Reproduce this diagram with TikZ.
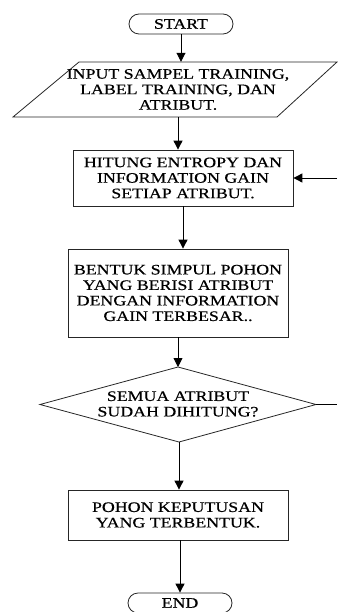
\documentclass[tikz,border=0pt]{standalone}
\usepackage{fontspec}
\setmainfont{Liberation Serif}[FakeStretch=1.23,FakeBold=0.5]
\usetikzlibrary{arrows.meta,shapes.misc}
\begin{document}
\begin{tikzpicture}[x=1pt,y=-1pt,
  every node/.style={font=\fontsize{14.5}{15.5}\selectfont, align=center, inner sep=0pt},
  shapeline/.style={draw=black!85, line width=0.8pt},
  box/.style={shapeline, minimum width=220pt},
  term/.style={shapeline, rounded rectangle, minimum width=104pt, minimum height=20pt},
  arr/.style={draw=black, line width=0.9pt, -{Triangle[length=9pt,width=9pt]}},
  plain/.style={draw=black, line width=0.9pt}]
\useasboundingbox (0,0) rectangle (337,612);

% START
\node[term] (start) at (181,24) {START};

% input parallelogram
\coordinate (p1) at (79,62);
\coordinate (p2) at (337,62);
\coordinate (p3) at (277,117);
\coordinate (p4) at (13,117);
\draw[shapeline] (p1) -- (p2) -- (p3) -- (p4) -- cycle;
\node[minimum height=55pt] (inp) at (178,89.5) {INPUT SAMPEL TRAINING,\\LABEL TRAINING, DAN\\ATRIBUT.};

% hitung
\node[box, minimum height=56pt] (hit) at (183,178) {HITUNG ENTROPY DAN\\INFORMATION GAIN\\SETIAP ATRIBUT.};

% bentuk
\node[box, minimum height=88pt] (ben) at (178,293) {BENTUK SIMPUL POHON\\YANG BERISI ATRIBUT\\DENGAN INFORMATION\\GAIN TERBESAR..};

% decision
\coordinate (dtop) at (178,367);
\coordinate (dright) at (316,404.5);
\coordinate (dbot) at (179,442);
\coordinate (dleft) at (40,404.5);
\draw[shapeline] (dtop) -- (dright) -- (dbot) -- (dleft) -- cycle;
\node (dec) at (178,404) {SEMUA ATRIBUT\\SUDAH DIHITUNG?};

% pohon
\node[box, minimum height=50pt] (poh) at (178,515) {POHON KEPUTUSAN\\YANG TERBENTUK.};

% END
\node[term] (end) at (180,603) {END};

% feedback ends
\coordinate (fbin) at (337,178);
\coordinate (fbout) at (337,404.5);

% connectors
\draw[arr] (start.south) -- (start.south |- inp.north);
\draw[arr] (inp.south) -- (inp.south |- hit.north);
\draw[arr] (hit.south) -- (hit.south |- ben.north);
\draw[arr] (ben.south) -- (dtop);
\draw[arr] (dbot) -- (dbot |- poh.north);
\draw[arr] (poh.south -| end.north) -- (end.north);
\draw[plain] (dright) -- (fbout);
\draw[arr] (fbin) -- (hit.east);
\end{tikzpicture}
\end{document}
